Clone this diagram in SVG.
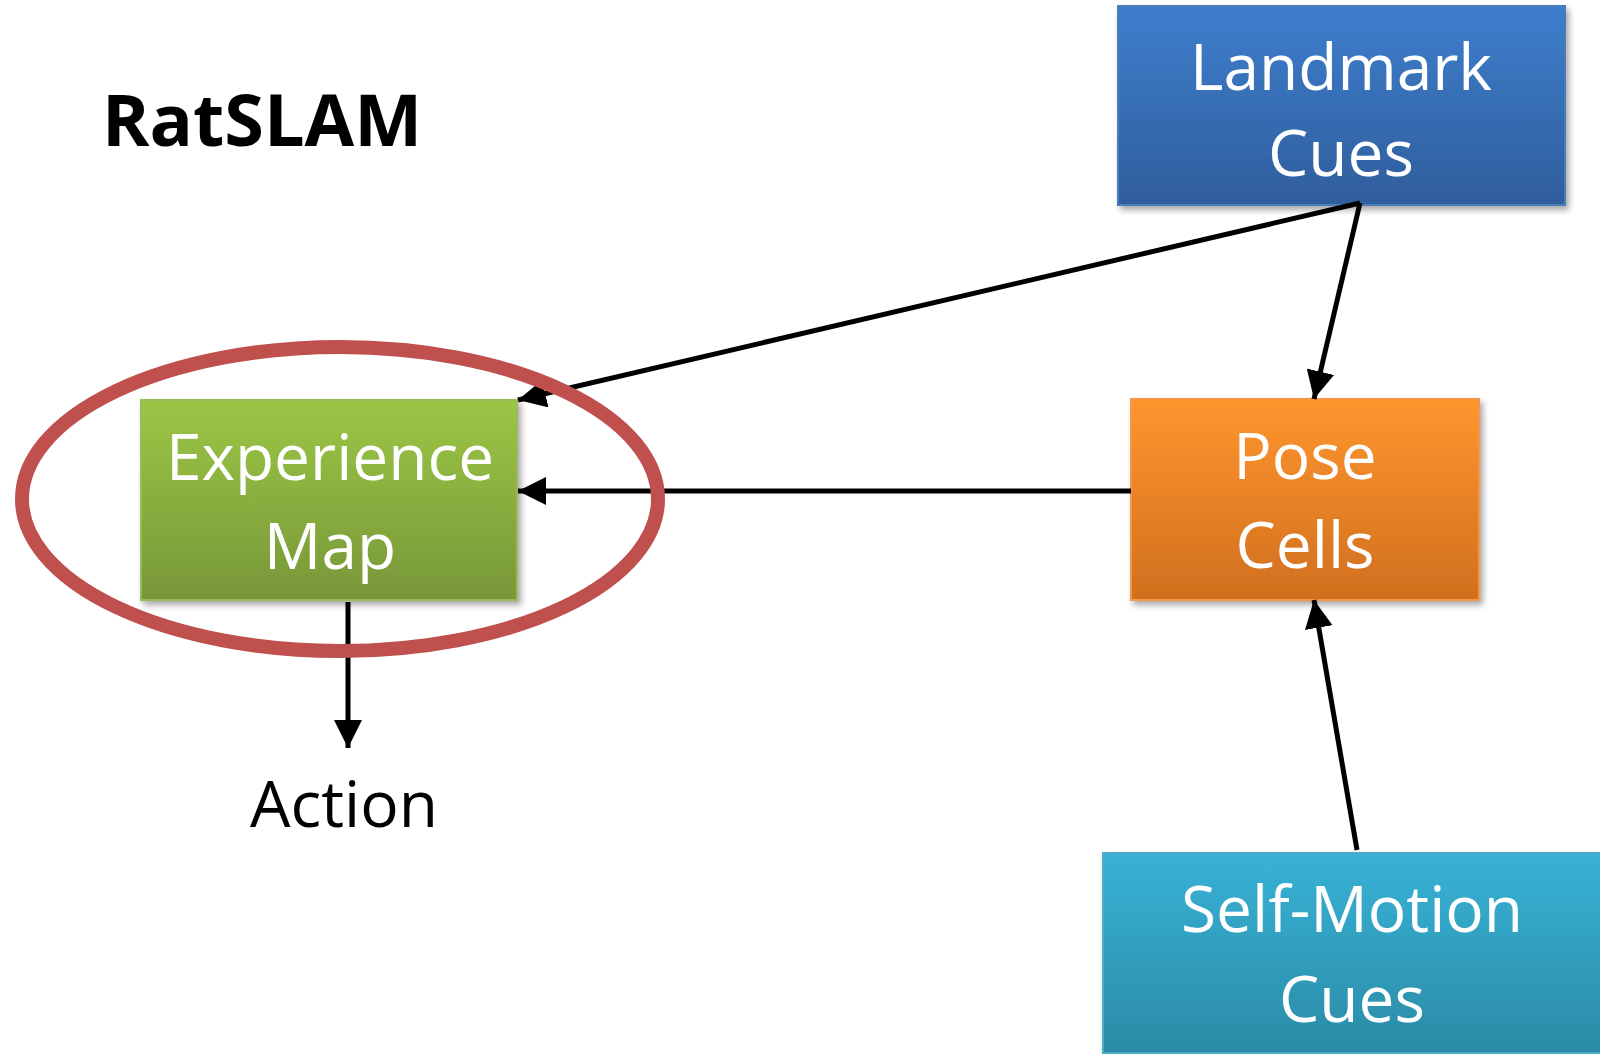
<svg xmlns="http://www.w3.org/2000/svg" width="1600" height="1054" viewBox="0 0 1600 1054">
<style>
.lbl{font-family:"Open Sans","Noto Sans","Liberation Sans",sans-serif;font-size:64px;fill:#ffffff;text-anchor:middle}
.plain{font-family:"Open Sans","Noto Sans","Liberation Sans",sans-serif;font-size:64px;fill:#000000;text-anchor:middle}
.title{font-family:"Open Sans","Noto Sans","Liberation Sans",sans-serif;font-size:72px;font-weight:bold;fill:#000000}
.conn{stroke:#000000;stroke-width:5;fill:none;marker-end:url(#arr)}
</style>
<defs>
<marker id="arr" markerUnits="userSpaceOnUse" markerWidth="30" markerHeight="30" refX="28" refY="14" orient="auto">
<path d="M0,0 L28,14 L0,28 z" fill="#000000"/>
</marker>
<filter id="sh" x="-10%" y="-10%" width="130%" height="130%">
<feDropShadow dx="3" dy="4" stdDeviation="3" flood-color="#000000" flood-opacity="0.35"/>
</filter>
<linearGradient id="gBlue" x1="0" y1="0" x2="0" y2="1">
<stop offset="0" stop-color="#3E7ECD"/><stop offset="1" stop-color="#2F5E9C"/>
</linearGradient>
<linearGradient id="gOrange" x1="0" y1="0" x2="0" y2="1">
<stop offset="0" stop-color="#FF952F"/><stop offset="1" stop-color="#D06F1E"/>
</linearGradient>
<linearGradient id="gTeal" x1="0" y1="0" x2="0" y2="1">
<stop offset="0" stop-color="#38B2D6"/><stop offset="1" stop-color="#2A8BA6"/>
</linearGradient>
<linearGradient id="gGreen" x1="0" y1="0" x2="0" y2="1">
<stop offset="0" stop-color="#9CC646"/><stop offset="1" stop-color="#779738"/>
</linearGradient>
</defs>

<text class="title" x="102" y="146">RatSLAM</text>

<g id="landmark">
<rect x="1118" y="6" width="447" height="199" fill="url(#gBlue)" stroke="#4A7EBB" stroke-width="2" filter="url(#sh)"/>
<text class="lbl" x="1341" y="90">Landmark</text>
<text class="lbl" x="1341" y="176">Cues</text>
</g>

<g id="pose">
<rect x="1131" y="399" width="348" height="201" fill="url(#gOrange)" stroke="#F79646" stroke-width="2" filter="url(#sh)"/>
<text class="lbl" x="1305" y="479">Pose</text>
<text class="lbl" x="1305" y="568">Cells</text>
</g>

<g id="selfmotion">
<rect x="1103" y="853" width="505" height="200" fill="url(#gTeal)" stroke="#4BACC6" stroke-width="2" filter="url(#sh)"/>
<text class="lbl" x="1352" y="932">Self-Motion</text>
<text class="lbl" x="1352" y="1022">Cues</text>
</g>

<g id="experience">
<rect x="141" y="400" width="376" height="200" fill="url(#gGreen)" stroke="#9BBB59" stroke-width="2" filter="url(#sh)"/>
<text class="lbl" x="330" y="480">Experience</text>
<text class="lbl" x="330" y="569">Map</text>
</g>

<g id="action">
<text class="plain" x="344" y="827">Action</text>
</g>

<g id="connectors">
<line class="conn" x1="1360" y1="203" x2="518" y2="400"/>
<line class="conn" x1="1360" y1="203" x2="1314" y2="399"/>
<line class="conn" x1="1131" y1="491" x2="518" y2="491"/>
<line class="conn" x1="1357" y1="850" x2="1314" y2="600"/>
<line class="conn" x1="348" y1="602" x2="348" y2="748"/>
</g>

<g id="highlight">
<ellipse cx="340" cy="499" rx="318" ry="152" fill="none" stroke="#C0504D" stroke-width="14"/>
</g>
</svg>
